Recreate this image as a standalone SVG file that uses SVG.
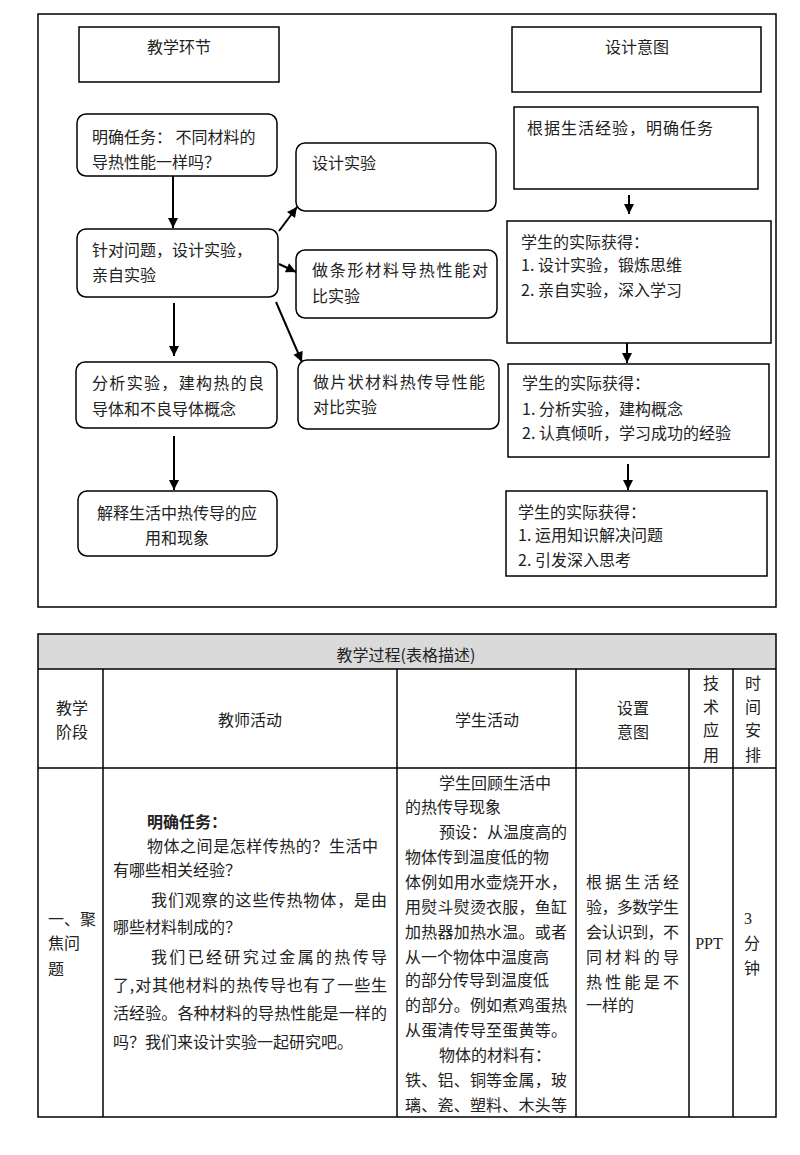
<svg xmlns="http://www.w3.org/2000/svg" width="800" height="1155" viewBox="0 0 800 1155">
<style>
.box{fill:#fff;stroke:#000;stroke-width:1.5}
.t{font-family:"Noto Sans CJK SC","Liberation Serif",sans-serif;font-size:16px;fill:#222}
.m{text-anchor:middle}
.b{font-weight:bold}
.c{fill:none;stroke:#000;stroke-width:2}
.g{stroke:#000;stroke-width:1.5;fill:none}
</style>
<defs>
<marker id="ah" viewBox="0 0 10 10" refX="10" refY="5" markerWidth="11" markerHeight="10" markerUnits="userSpaceOnUse" orient="auto"><path d="M0,0L10,5L0,10z" fill="#000"/></marker>
</defs>
<rect x="0" y="0" width="800" height="1155" fill="#fff"/>
<rect x="38" y="14" width="738" height="593" class="g"/>

<g id="n-huanjie"><rect x="79" y="27" width="200" height="55" class="box"/><text x="179" y="53" class="t m">教学环节</text></g>
<g id="n-yitu"><rect x="512" y="27" width="249" height="65" class="box"/><text x="637" y="53" class="t m">设计意图</text></g>
<g id="n1"><rect x="77" y="114" width="200" height="62" rx="9" class="box"/><text x="92" y="143" class="t">明确任务： 不同材料的</text><text x="92" y="168" class="t">导热性能一样吗？</text></g>
<g id="n2"><rect x="77" y="229" width="201" height="68" rx="9" class="box"/><text x="92" y="256" class="t">针对问题，设计实验，</text><text x="92" y="281" class="t">亲自实验</text></g>
<g id="n3"><rect x="296" y="143" width="200" height="68" rx="9" class="box"/><text x="312" y="169" class="t">设计实验</text></g>
<g id="n4"><rect x="296" y="250" width="201" height="68" rx="9" class="box"/><text x="312" y="276" class="t" textLength="176" lengthAdjust="spacing">做条形材料导热性能对</text><text x="312" y="302" class="t">比实验</text></g>
<g id="n5"><rect x="298" y="360" width="201" height="69" rx="9" class="box"/><text x="313" y="388" class="t" textLength="172" lengthAdjust="spacing">做片状材料热传导性能</text><text x="313" y="413" class="t">对比实验</text></g>
<g id="n6"><rect x="76" y="362" width="201" height="66" rx="9" class="box"/><text x="92" y="389" class="t" textLength="172" lengthAdjust="spacing">分析实验，建构热的良</text><text x="92" y="415" class="t">导体和不良导体概念</text></g>
<g id="n7"><rect x="78" y="491" width="199" height="65" rx="9" class="box"/><text x="177" y="519" class="t m">解释生活中热传导的应</text><text x="177" y="544" class="t m">用和现象</text></g>
<g id="r1"><rect x="514" y="107" width="244" height="82" class="box"/><text x="527" y="134" class="t" textLength="186" lengthAdjust="spacing">根据生活经验，明确任务</text></g>
<g id="r2"><rect x="507" y="221" width="264" height="122" class="box"/><text x="521" y="248" class="t">学生的实际获得：</text><text x="521" y="271" class="t">1. 设计实验，锻炼思维</text><text x="521" y="296" class="t">2. 亲自实验，深入学习</text></g>
<g id="r3"><rect x="508" y="364" width="261" height="93" class="box"/><text x="522" y="389" class="t">学生的实际获得：</text><text x="522" y="415" class="t">1. 分析实验，建构概念</text><text x="522" y="439" class="t">2. 认真倾听，学习成功的经验</text></g>
<g id="r4"><rect x="506" y="491" width="261" height="85" class="box"/><text x="518" y="518" class="t">学生的实际获得：</text><text x="518" y="541" class="t">1. 运用知识解决问题</text><text x="518" y="566" class="t">2. 引发深入思考</text></g>

<g id="connectors">
<line x1="173" y1="176" x2="173" y2="228" class="c" marker-end="url(#ah)"/>
<line x1="279" y1="231" x2="297" y2="207" class="c" marker-end="url(#ah)"/>
<line x1="279" y1="264" x2="296" y2="272" class="c" marker-end="url(#ah)"/>
<line x1="276" y1="302" x2="302" y2="362" class="c" marker-end="url(#ah)"/>
<line x1="174" y1="303" x2="174" y2="356" class="c" marker-end="url(#ah)"/>
<line x1="174" y1="436" x2="174" y2="490" class="c" marker-end="url(#ah)"/>
<line x1="629" y1="195" x2="629" y2="214" class="c" marker-end="url(#ah)"/>
<line x1="627" y1="343" x2="627" y2="363" class="c" marker-end="url(#ah)"/>
<line x1="628" y1="464" x2="628" y2="490" class="c" marker-end="url(#ah)"/>
</g>

<g id="table">
<rect x="38" y="634" width="738" height="35" fill="#dadada"/>
<rect x="38" y="634" width="738" height="483" class="g"/>
<line x1="38" y1="669" x2="776" y2="669" class="g"/>
<line x1="38" y1="768" x2="776" y2="768" class="g"/>
<line x1="103" y1="669" x2="103" y2="1117" class="g"/>
<line x1="397" y1="669" x2="397" y2="1117" class="g"/>
<line x1="576" y1="669" x2="576" y2="1117" class="g"/>
<line x1="689" y1="669" x2="689" y2="1117" class="g"/>
<line x1="733" y1="669" x2="733" y2="1117" class="g"/>
<text x="406" y="661" class="t m">教学过程(表格描述)</text>
<text x="72" y="714" class="t m">教学</text><text x="72" y="738" class="t m">阶段</text>
<text x="250" y="726" class="t m">教师活动</text>
<text x="487" y="726" class="t m">学生活动</text>
<text x="633" y="714" class="t m">设置</text><text x="633" y="738" class="t m">意图</text>
<text x="711" y="689" class="t m">技</text><text x="711" y="713" class="t m">术</text><text x="711" y="736" class="t m">应</text><text x="711" y="761" class="t m">用</text>
<text x="753" y="689" class="t m">时</text><text x="753" y="713" class="t m">间</text><text x="753" y="736" class="t m">安</text><text x="753" y="761" class="t m">排</text>
<text x="48" y="925" class="t">一、聚</text><text x="48" y="949" class="t">焦问</text><text x="48" y="975" class="t">题</text>
<text x="147" y="828" class="t b">明确任务：</text>
<text x="147" y="852" class="t" textLength="231" lengthAdjust="spacing">物体之间是怎样传热的？生活中</text>
<text x="113" y="876" class="t">有哪些相关经验？</text>
<text x="151" y="906" class="t" textLength="236" lengthAdjust="spacing">我们观察的这些传热物体，是由</text>
<text x="113" y="933" class="t">哪些材料制成的？</text>
<text x="151" y="963" class="t" textLength="236" lengthAdjust="spacing">我们已经研究过金属的热传导</text>
<text x="113" y="991" class="t" textLength="274" lengthAdjust="spacing">了,对其他材料的热传导也有了一些生</text>
<text x="113" y="1019" class="t" textLength="274" lengthAdjust="spacing">活经验。各种材料的导热性能是一样的</text>
<text x="113" y="1048" class="t">吗？我们来设计实验一起研究吧。</text>
<text x="439" y="789" class="t">学生回顾生活中</text>
<text x="405" y="813" class="t">的热传导现象</text>
<text x="439" y="838" class="t">预设：从温度高的</text>
<text x="405" y="863" class="t">物体传到温度低的物</text>
<text x="405" y="888" class="t" textLength="162" lengthAdjust="spacing">体例如用水壶烧开水，</text>
<text x="405" y="913" class="t" textLength="162" lengthAdjust="spacing">用熨斗熨烫衣服，鱼缸</text>
<text x="405" y="938" class="t" textLength="162" lengthAdjust="spacing">加热器加热水温。或者</text>
<text x="405" y="963" class="t">从一个物体中温度高</text>
<text x="405" y="986" class="t">的部分传导到温度低</text>
<text x="405" y="1011" class="t" textLength="162" lengthAdjust="spacing">的部分。例如煮鸡蛋热</text>
<text x="405" y="1036" class="t" textLength="162" lengthAdjust="spacing">从蛋清传导至蛋黄等。</text>
<text x="439" y="1061" class="t">物体的材料有：</text>
<text x="405" y="1086" class="t" textLength="162" lengthAdjust="spacing">铁、铝、铜等金属，玻</text>
<text x="405" y="1111" class="t" textLength="162" lengthAdjust="spacing">璃、瓷、塑料、木头等</text>
<text x="586" y="888" class="t" textLength="93" lengthAdjust="spacing">根据生活经</text>
<text x="586" y="913" class="t" textLength="93" lengthAdjust="spacing">验，多数学生</text>
<text x="586" y="938" class="t" textLength="93" lengthAdjust="spacing">会认识到，不</text>
<text x="586" y="963" class="t" textLength="93" lengthAdjust="spacing">同材料的导</text>
<text x="586" y="988" class="t" textLength="93" lengthAdjust="spacing">热性能是不</text>
<text x="586" y="1011" class="t">一样的</text>
<text x="709" y="949" class="t m" style="font-family:'Liberation Serif',serif">PPT</text>
<text x="744" y="924" class="t" style="font-family:'Liberation Serif',serif">3</text>
<text x="744" y="949" class="t">分</text>
<text x="744" y="974" class="t">钟</text>
</g>
</svg>
